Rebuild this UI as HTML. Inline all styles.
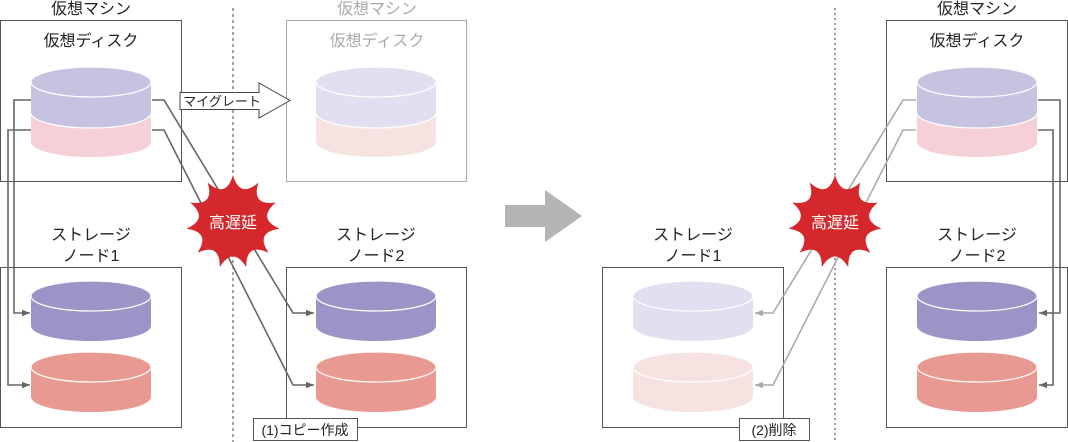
<!DOCTYPE html>
<html><head><meta charset="utf-8"><style>
html,body{margin:0;padding:0;background:#fff;width:1068px;height:442px;overflow:hidden}
svg{display:block}
text{font-family:"Liberation Sans","Noto Sans CJK JP",sans-serif;fill:#222}
</style></head><body>
<svg id="s" width="1068" height="442" viewBox="0 0 1068 442" xmlns="http://www.w3.org/2000/svg">
<defs>
<marker id="ad" viewBox="0 0 10 10" refX="10" refY="5" markerWidth="8" markerHeight="8" markerUnits="userSpaceOnUse" orient="auto"><path d="M0,1 L10,5 L0,9 Z" fill="#666"/></marker>
<marker id="al" viewBox="0 0 10 10" refX="10" refY="5" markerWidth="8" markerHeight="8" markerUnits="userSpaceOnUse" orient="auto"><path d="M0,1 L10,5 L0,9 Z" fill="#aaa"/></marker>
</defs>
<g id="g"></g>
<line x1="233" y1="8" x2="233" y2="442" stroke="#444" stroke-width="1" stroke-dasharray="3,3"/>
<line x1="835" y1="8" x2="835" y2="442" stroke="#666" stroke-width="1.3" stroke-dasharray="2,3"/>
<rect x="0.5" y="20.5" width="181" height="161" fill="none" stroke="#555"/>
<rect x="0.5" y="267.5" width="181" height="160" fill="none" stroke="#555"/>
<rect x="286.5" y="20.5" width="180" height="161" fill="none" stroke="#aaa"/>
<rect x="286.5" y="267.5" width="180" height="160" fill="none" stroke="#555"/>
<rect x="602.5" y="267.5" width="181" height="160" fill="none" stroke="#555"/>
<rect x="886.5" y="20.5" width="181" height="161" fill="none" stroke="#555"/>
<rect x="886.5" y="267.5" width="181" height="160" fill="none" stroke="#555"/>
<g font-size="16" text-anchor="middle">
<text x="91" y="14">仮想マシン</text>
<text x="91" y="46">仮想ディスク</text>
<text x="377" y="14" style="fill:#aaa">仮想マシン</text>
<text x="377" y="46" style="fill:#aaa">仮想ディスク</text>
<text x="91" y="240">ストレージ</text>
<text x="91" y="261">ノード1</text>
<text x="376" y="240">ストレージ</text>
<text x="376" y="261">ノード2</text>
<text x="977" y="14">仮想マシン</text>
<text x="977" y="46">仮想ディスク</text>
<text x="693" y="240">ストレージ</text>
<text x="693" y="261">ノード1</text>
<text x="977" y="240">ストレージ</text>
<text x="977" y="261">ノード2</text>
</g>
<path d="M180,92.5 H259 V83 L290,100.5 L259,118 V109.5 H180 Z" fill="#fff" stroke="#444"/>
<text x="222" y="106" font-size="13" text-anchor="middle">マイグレート</text>
<path d="M505,205 H545 V190 L582,216 L545,242 V227 H505 Z" fill="#b5b5b5"/>
<g fill="none" stroke="#666" stroke-width="1.6">
<path d="M31,100 H14 V313 H30" marker-end="url(#ad)"/>
<path d="M31,130 H8 V385 H30" marker-end="url(#ad)"/>
<path d="M152,100 H164 L293,313 H314" marker-end="url(#ad)"/>
<path d="M152,130 H164 L293,385 H314" marker-end="url(#ad)"/>
<path d="M1038,100 H1060 V313 H1039" marker-end="url(#ad)"/>
<path d="M1038,130 H1053 V385 H1039" marker-end="url(#ad)"/>
</g>
<g fill="none" stroke="#aaa" stroke-width="1.6">
<path d="M916,100 H903 L773,313 H755" marker-end="url(#al)"/>
<path d="M916,130 H903 L773,385 H755" marker-end="url(#al)"/>
</g>
<g id="stars"></g>
<rect x="253.5" y="418.5" width="104" height="22" fill="#fff" stroke="#555"/>
<text x="305" y="435" font-size="14" text-anchor="middle">(1)コピー作成</text>
<rect x="739.5" y="418.5" width="70" height="22" fill="#fff" stroke="#555"/>
<text x="774" y="435" font-size="14" text-anchor="middle">(2)削除</text>
</svg>
<script>
var NS="http://www.w3.org/2000/svg";
var g=document.getElementById('g');
function el(t,a,p){var e=document.createElementNS(NS,t);for(var k in a)e.setAttribute(k,a[k]);(p||g).appendChild(e);return e;}
function cyl(x,top,bot,col){var rx=60,cx=x+60,ry=15;
 el('path',{d:'M'+x+','+top+' V'+bot+' A'+rx+','+ry+' 0 0 0 '+(x+120)+','+bot+' V'+top+' Z',fill:col});
 el('ellipse',{cx:cx,cy:top,rx:rx,ry:ry,fill:col,stroke:'#fff','stroke-width':1.2});}
function cyl2(x,c1,c2){
 cyl(x,82,142,c2);
 el('path',{d:'M'+x+',82 V113 A60,15 0 0 0 '+(x+120)+',113 V82 Z',fill:c1});
 el('path',{d:'M'+x+',113 A60,15 0 0 0 '+(x+120)+',113',fill:'none',stroke:'#fff','stroke-width':1.2});
 el('ellipse',{cx:x+60,cy:82,rx:60,ry:15,fill:c1,stroke:'#fff','stroke-width':1.2});}
cyl2(31,'#c6c3e0','#f5d0d6');
cyl2(316,'#e2dff0','#f6e3e1');
cyl2(917,'#c6c3e0','#f5d0d6');
[[31,'#9a95c6','#e89a92'],[316,'#9a95c6','#e89a92'],[633,'#e2dff0','#f6e3e1'],[917,'#9a95c6','#e89a92']].forEach(function(a){
 cyl(a[0],296,326,a[1]);cyl(a[0],367,397,a[2]);});
var st=document.getElementById('stars');
[[233,222],[835,222]].forEach(function(c){
 var n=11,d='';
 for(var i=0;i<n;i++){
  var a=2*Math.PI*i/n-Math.PI/2, a2=2*Math.PI*(i+0.5)/n-Math.PI/2, a3=2*Math.PI*(i+1)/n-Math.PI/2;
  var R=47,r=24;
  if(i==0)d+='M'+(c[0]+R*Math.cos(a)).toFixed(1)+','+(c[1]+R*Math.sin(a)).toFixed(1);
  d+=' Q'+(c[0]+r*Math.cos(a2)).toFixed(1)+','+(c[1]+r*Math.sin(a2)).toFixed(1)+' '+(c[0]+R*Math.cos(a3)).toFixed(1)+','+(c[1]+R*Math.sin(a3)).toFixed(1);
 }
 el('path',{d:d+'Z',fill:'#d5282c'},st);
 el('circle',{cx:c[0],cy:c[1],r:31,fill:'#d5282c'},st);
 var t=el('text',{x:c[0],y:c[1]+6,'font-size':16,'text-anchor':'middle',style:'fill:#fff'},st);t.textContent='高遅延';
});
</script>
</body></html>
